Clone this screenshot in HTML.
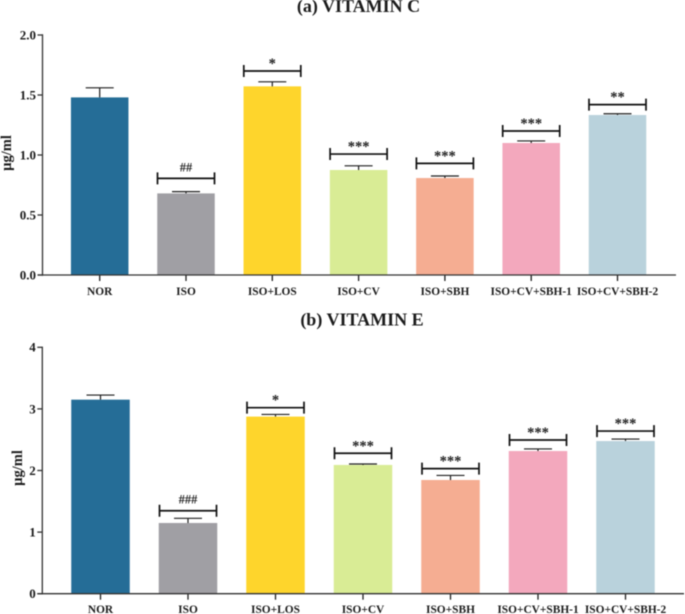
<!DOCTYPE html>
<html lang="en">
<head>
<meta charset="utf-8">
<title>Vitamin C and Vitamin E levels</title>
<style>
html,body{margin:0;padding:0;background:#fff;width:685px;height:614px;overflow:hidden}
svg{display:block;filter:blur(0.4px)}
text{font-family:"Liberation Serif",serif;font-weight:bold;fill:#1c1c1c}
</style>
</head>
<body>
<svg id="chart" xmlns="http://www.w3.org/2000/svg" width="685" height="614" viewBox="0 0 685 614">
<g id="panel-a"></g>
<g id="panel-b"></g>
</svg>
<script>
const categories = ['NOR','ISO','ISO+LOS','ISO+CV','ISO+SBH','ISO+CV+SBH-1','ISO+CV+SBH-2'];
const barColors = ['#256d97','#a09fa4','#fed52c','#d9ec95','#f5ad92','#f3a8bd','#b9d2dc'];

const vitaminCMeans = [1.48,0.68,1.572,0.875,0.808,1.10,1.333];
const vitaminCErrors = [0.08,0.015,0.038,0.035,0.017,0.017,0.011];
const vitaminCBrackets = [null,0.805,1.70,1.008,0.93,1.20,1.42];
const vitaminCMarks = ['','##','*','***','***','***','**'];
const vitaminCTicks = ['0.0','0.5','1.0','1.5','2.0'];
const vitaminCMax = 2;

const vitaminEMeans = [3.15,1.148,2.875,2.09,1.846,2.316,2.478];
const vitaminEErrors = [0.075,0.076,0.035,0.015,0.074,0.034,0.032];
const vitaminEBrackets = [null,1.347,3.02,2.28,2.03,2.495,2.64];
const vitaminEMarks = ['','###','*','***','***','***','***'];
const vitaminETicks = ['0','1','2','3','4'];
const vitaminEMax = 4;

const NS = 'http://www.w3.org/2000/svg';

function make(parent, tag, attrs, content) {
  const el = document.createElementNS(NS, tag);
  for (const k in attrs) el.setAttribute(k, attrs[k]);
  if (content !== undefined) el.textContent = content;
  parent.appendChild(el);
  return el;
}

function drawPanel(cfg) {
  const g = document.getElementById(cfg.id);
  const y = v => cfg.y0 - (v / cfg.max) * (cfg.y0 - cfg.yTop);
  const x = i => cfg.x0 + i * cfg.step;
  const ink = '#1e1e1e';

  const title = make(g, 'text', {x: cfg.titleX, y: cfg.titleY, 'text-anchor': 'middle', 'font-size': 18}, cfg.title);
  
  

  cfg.means.forEach((m, i) => {
    const bar = make(g, 'rect', {x: x(i) - cfg.barW / 2, y: y(m), width: cfg.barW, height: cfg.y0 - y(m), fill: barColors[i]});
    
    

    const top = y(m + cfg.errors[i]);
    const err = make(g, 'path', {
      d: 'M' + x(i) + ' ' + y(m) + 'V' + top + 'M' + (x(i) - 14) + ' ' + top + 'H' + (x(i) + 14),
      stroke: ink, 'stroke-width': 1.2, fill: 'none'
    });
    
    

    const tick = make(g, 'line', {x1: x(i), x2: x(i), y1: cfg.y0, y2: cfg.y0 + 6, stroke: ink, 'stroke-width': 1.3});
    
    

    const label = make(g, 'text', {x: x(i), y: cfg.labelY, 'text-anchor': 'middle', 'font-size': 11.4}, categories[i]);
    
    

    if (cfg.brackets[i] !== null) {
      const by = y(cfg.brackets[i]);
      const bx = x(i) + cfg.bracketShift;
      const br = make(g, 'path', {
        d: 'M' + (bx - 28.5) + ' ' + (by - 6) + 'V' + (by + 6) + 'M' + (bx - 28.5) + ' ' + by + 'H' + (bx + 28.5) + 'M' + (bx + 28.5) + ' ' + (by - 6) + 'V' + (by + 6),
        stroke: '#111', 'stroke-width': 1.7, fill: 'none'
      });
      
      

      const isHash = cfg.marks[i].charAt(0) === '#';
      const mark = make(g, 'text', {x: bx, y: by + (isHash ? -7 : -3), 'text-anchor': 'middle', 'font-size': isHash ? 12.5 : 14.5}, cfg.marks[i]);
      
      
    }
  });

  const xAxis = make(g, 'line', {x1: cfg.axisX - 5, x2: cfg.axisEnd, y1: cfg.y0, y2: cfg.y0, stroke: '#333', 'stroke-width': 1.3});
  
  

  const yAxis = make(g, 'line', {x1: cfg.axisX, x2: cfg.axisX, y1: cfg.yTop - 0.7, y2: cfg.y0 + 0.7, stroke: '#333', 'stroke-width': 1.3});
  
  

  cfg.ticks.forEach((t, i) => {
    const v = cfg.max * i / (cfg.ticks.length - 1);
    const tk = make(g, 'line', {x1: cfg.axisX - 5, x2: cfg.axisX, y1: y(v), y2: y(v), stroke: '#333', 'stroke-width': 1.3});
    
    

    const tl = make(g, 'text', {x: cfg.axisX - 6.5, y: y(v) + 4.4, 'text-anchor': 'end', 'font-size': 13}, t);
    
    
  });

  const yt = make(g, 'text', {
    transform: 'translate(' + cfg.yTitleX + ' ' + cfg.yTitleY + ') rotate(-90)',
    'text-anchor': 'middle', 'font-size': 14.5
  }, 'µg/ml');
  
  
}

drawPanel({
  id: 'panel-a', title: '(a) VITAMIN C', titleX: 358.5, titleY: 12,
  means: vitaminCMeans, errors: vitaminCErrors, brackets: vitaminCBrackets, marks: vitaminCMarks,
  ticks: vitaminCTicks, max: vitaminCMax,
  x0: 99.7, step: 86.3, barW: 57.5, y0: 275, yTop: 35, axisX: 42.5, axisEnd: 676,
  labelY: 295, yTitleX: 11, yTitleY: 153, bracketShift: 0
});
drawPanel({
  id: 'panel-b', title: '(b) VITAMIN E', titleX: 362, titleY: 325.5,
  means: vitaminEMeans, errors: vitaminEErrors, brackets: vitaminEBrackets, marks: vitaminEMarks,
  ticks: vitaminETicks, max: vitaminEMax,
  x0: 100.5, step: 87.5, barW: 58.5, y0: 593.7, yTop: 347.3, axisX: 42.3, axisEnd: 684,
  labelY: 613, yTitleX: 22, yTitleY: 468, bracketShift: 0
});
</script>
</body>
</html>
